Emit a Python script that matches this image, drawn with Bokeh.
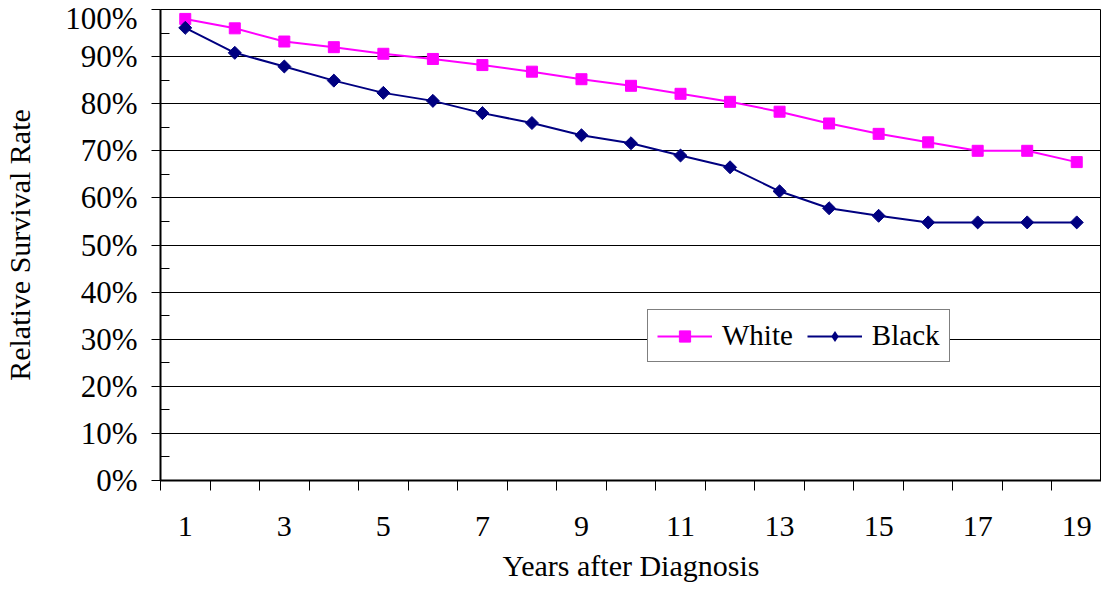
import math
from bokeh.plotting import figure
from bokeh.models import (Range1d, FixedTicker, PrintfTickFormatter, Legend, LegendItem)
from bokeh.embed import file_html
from bokeh.resources import INLINE

years = list(range(1, 20))
white = [98.0, 96.0, 93.2, 92.0, 90.6, 89.5, 88.2, 86.8, 85.2, 83.8, 82.1, 80.4,
         78.3, 75.8, 73.6, 71.8, 70.0, 70.0, 67.6]
black = [96.1, 90.8, 87.9, 84.9, 82.3, 80.6, 78.0, 75.9, 73.3, 71.6, 69.0, 66.5,
         61.4, 57.8, 56.2, 54.8, 54.8, 54.8, 54.8]
y_ticks = list(range(0, 101, 10))
y_minor = [v + 5 for v in y_ticks[:-1]]
x_labels = years[::2]
x_bounds = [y - 0.5 for y in years] + [years[-1] + 0.5]

FONT = "Liberation Serif"

p = figure(width=1101, height=584, output_backend="svg", toolbar_location=None,
           x_range=Range1d(0.5, 19.5), y_range=Range1d(0, 100),
           min_border_left=154, min_border_right=0, min_border_top=9, min_border_bottom=0)
p.background_fill_color = "white"
p.border_fill_color = "white"
p.outline_line_color = "black"
p.outline_line_width = 1

p.xgrid.grid_line_color = None
p.ygrid.grid_line_color = "black"
p.ygrid.grid_line_width = 1

xa = p.xaxis[0]
xa.ticker = FixedTicker(ticks=x_labels, minor_ticks=x_bounds)
xa.major_tick_line_color = None
xa.major_tick_out = 0
xa.major_tick_in = 0
xa.minor_tick_line_color = "black"
xa.minor_tick_out = 10
xa.minor_tick_in = 0
xa.axis_line_color = "black"
xa.axis_line_width = 2
xa.major_label_text_font = FONT
xa.major_label_text_font_size = "30px"
xa.major_label_text_color = "black"
xa.major_label_standoff = 26
xa.axis_label = "Years after Diagnosis"
xa.axis_label_text_font = FONT
xa.axis_label_text_font_size = "30px"
xa.axis_label_text_font_style = "normal"
xa.axis_label_text_color = "black"
xa.axis_label_standoff = 10

ya = p.yaxis[0]
ya.ticker = FixedTicker(ticks=y_ticks, minor_ticks=y_minor)
ya.formatter = PrintfTickFormatter(format="%d%%")
ya.major_tick_line_color = "black"
ya.major_tick_out = 9
ya.major_tick_in = 0
ya.minor_tick_line_color = "black"
ya.minor_tick_out = 0
ya.minor_tick_in = 9
ya.axis_line_color = "black"
ya.axis_line_width = 2
ya.major_label_text_font = FONT
ya.major_label_text_font_size = "31px"
ya.major_label_text_color = "black"
ya.major_label_standoff = 14
ya.axis_label = "Relative Survival Rate"
ya.axis_label_text_font = FONT
ya.axis_label_text_font_size = "30px"
ya.axis_label_text_font_style = "normal"
ya.axis_label_text_color = "black"
ya.axis_label_standoff = 26

wl = p.line(years, white, line_color="#FF00FF", line_width=2)
ws = p.scatter(years, white, marker="square", size=11, fill_color="#FF00FF",
               line_color="#FF00FF")
bl = p.line(years, black, line_color="#000080", line_width=2)
bs = p.scatter(years, black, marker="square", size=9.2, angle=math.pi / 4,
               fill_color="#000080", line_color="#000080")
bk = p.scatter(years, black, marker="diamond", size=0, fill_color="#000080",
               line_color="#000080", line_alpha=0)

legend = Legend(items=[LegendItem(label="White", renderers=[wl, ws]),
                       LegendItem(label="Black", renderers=[bl, bk])],
                location=(487, 118), orientation="horizontal",
                border_line_color="black", border_line_width=1,
                background_fill_color="white", background_fill_alpha=1,
                padding=9, spacing=14, margin=0, glyph_width=55, glyph_height=28,
                label_standoff=10, label_text_font=FONT, label_text_font_size="29px",
                label_text_color="black")
p.add_layout(legend, "center")

open("out.html", "w").write(file_html(p, INLINE))
